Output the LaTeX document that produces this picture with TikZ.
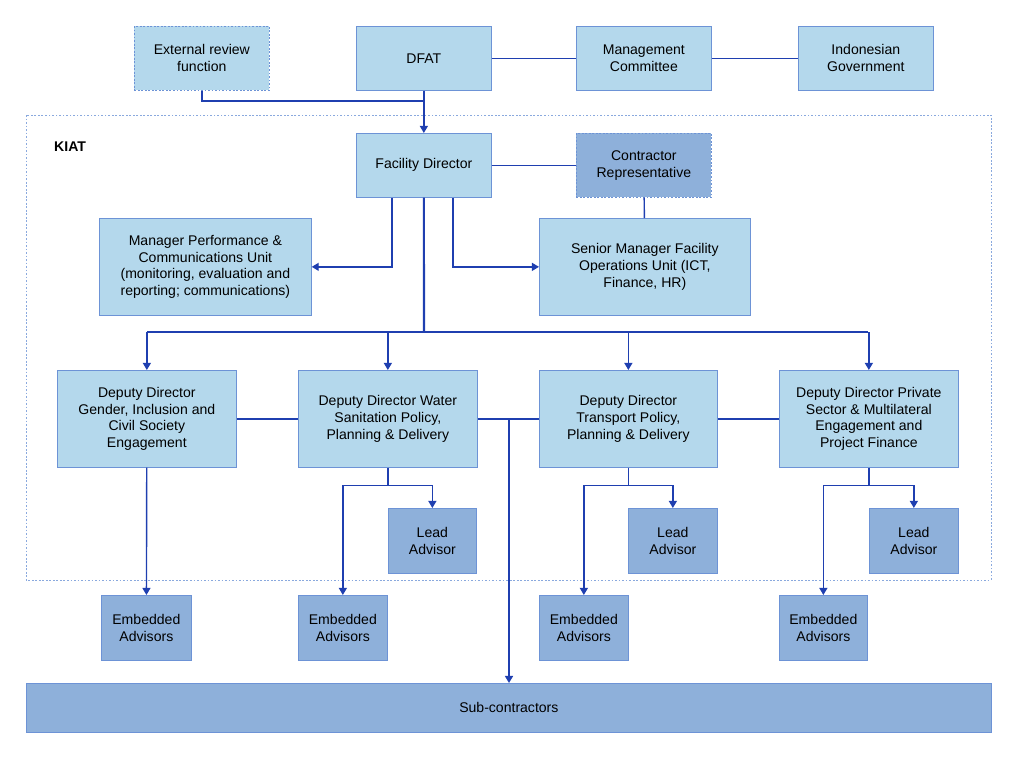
\documentclass[tikz,border=0pt]{standalone}
\usepackage{fontspec}
\setmainfont{Liberation Sans}
\usetikzlibrary{arrows.meta,calc}
\definecolor{lightbox}{HTML}{B4D8EC}
\definecolor{darkbox}{HTML}{8EB0DA}
\definecolor{boxedge}{HTML}{6D93D6}
\definecolor{linkblue}{HTML}{1F3FB0}
\tikzset{
  block/.style = {draw=boxedge, fill=lightbox, rectangle, align=center, inner sep=1pt, font=\fontsize{8}{9.6}\selectfont},
  dark/.style = {block, fill=darkbox},
  dashedge/.style = {dash pattern=on 1pt off 1pt},
  line/.style = {draw=linkblue, line width=0.8pt},
  arrow/.style = {line, -{Triangle[length=4pt,width=4.5pt]}},
  trunk/.style = {line, line width=1.2pt}
}
% box from its top-left corner, size in pixels
\newcommand{\pbox}[7]{\node[#1, anchor=north west, minimum width=#4*0.02cm, minimum height=#5*0.02cm] (#6) at (#2,#3) {#7};}
\begin{document}
\begin{tikzpicture}[x=0.02cm, y=-0.02cm]
        \useasboundingbox (0,0) rectangle (1017,758);
        % KIAT frame
        \draw[boxedge!80, dashedge] (26,115) rectangle (991,580);
        \node[anchor=west, font=\fontsize{8}{9.6}\selectfont\bfseries] (kiat) at (48,147) {KIAT};
        % top row
        \pbox{block, dashedge}{134}{26}{135}{64}{review}{External review\\function}
        \pbox{block}{356}{26}{135}{64}{dfat}{DFAT}
        \pbox{block}{576}{26}{135}{64}{mgmt}{Management\\Committee}
        \pbox{block}{798}{26}{135}{64}{indo}{Indonesian\\Government}
        % facility level
        \pbox{block}{356}{133}{135}{64}{director}{Facility Director}
        \pbox{dark, dashedge}{576}{133}{135}{64}{contractor}{Contractor\\Representative}
        \pbox{block}{99}{218}{212}{97}{perf}{Manager Performance \&\\Communications Unit\\(monitoring, evaluation and\\reporting; communications)}
        \pbox{block}{539}{218}{211}{97}{ops}{Senior Manager Facility\\Operations Unit (ICT,\\Finance, HR)}
        % deputy directors
        \pbox{block}{57}{370}{179}{97}{gender}{Deputy Director\\Gender, Inclusion and\\Civil Society\\Engagement}
        \pbox{block}{298}{370}{179}{97}{water}{Deputy Director Water\\Sanitation Policy,\\Planning \& Delivery}
        \pbox{block}{539}{370}{178}{97}{transport}{Deputy Director\\Transport Policy,\\Planning \& Delivery}
        \pbox{block}{779}{370}{179}{97}{private}{Deputy Director Private\\Sector \& Multilateral\\Engagement and\\Project Finance}
        % advisors
        \pbox{dark}{388}{508}{88}{65}{leadW}{Lead\\Advisor}
        \pbox{dark}{628}{508}{89}{65}{leadT}{Lead\\Advisor}
        \pbox{dark}{869}{508}{89}{65}{leadP}{Lead\\Advisor}
        \pbox{dark}{101}{595}{90}{65}{embG}{Embedded\\Advisors}
        \pbox{dark}{298}{595}{89}{65}{embW}{Embedded\\Advisors}
        \pbox{dark}{539}{595}{89}{65}{embT}{Embedded\\Advisors}
        \pbox{dark}{779}{595}{88}{65}{embP}{Embedded\\Advisors}
        \pbox{dark}{26}{683}{965}{49}{sub}{Sub-contractors}
        \coordinate (bus) at (424,332);
        \coordinate (split) at (509,418);
        % connectors
        \draw[line] (dfat) -- (mgmt);
        \draw[line] (mgmt) -- (indo);
        \draw[line] (director) -- (contractor);
        \draw[line] (contractor) -- (ops);
        \draw[line] (review.south) |- (424,101);
        \draw[arrow] (dfat) -- (director);
        \draw[arrow] ($(director.south)+(-32,0)$) |- (perf);
        \draw[arrow] ($(director.south)+(29,0)$) |- (ops);
        \draw[trunk] (director) -- (bus);
        \draw[line] (147,332) -- (868,332);
        \foreach \dd in {gender, water, transport, private}
            \draw[arrow] (bus -| \dd) -- (\dd);
        \draw[line] (gender) -- (water);
        \draw[line] (water) -- (transport);
        \draw[line] (transport) -- (private);
        \draw[arrow, line width=1.1pt] (split) -- (split |- sub.north);
        \draw[arrow] (gender) -- (embG);
        \foreach \dd/\ld/\ed in {water/leadW/embW, transport/leadT/embT, private/leadP/embP} {
            \draw[line] (\dd.south) -- ++(0,18) coordinate (\dd-fork);
            \draw[arrow] (\dd-fork) -| (\ld);
            \draw[arrow] (\dd-fork) -| (\ed);
        }
    \end{tikzpicture}
\end{document}
